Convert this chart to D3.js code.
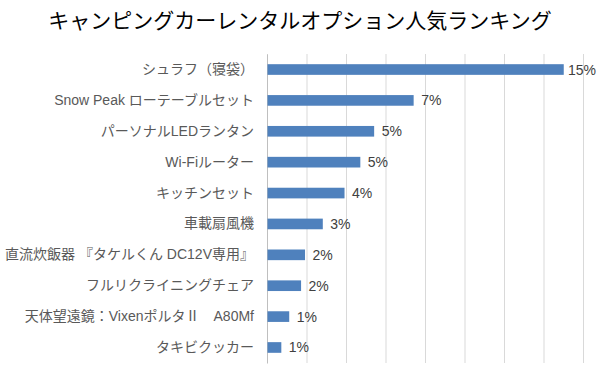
<!DOCTYPE html>
<html>
<head>
<meta charset="utf-8">
<script src="https://cdn.jsdelivr.net/npm/d3@7"></script>
<style>
  body { margin: 0; background: #fff; }
  svg text { font-family: "Liberation Sans", "Noto Sans CJK JP", sans-serif; }
</style>
</head>
<body>
<div id="chart"></div>
<script>
const width = 600, height = 381;
const margin = { top: 54, right: 17, bottom: 18, left: 267 };

// Data
const categories = [
    "シュラフ（寝袋）",
    "Snow Peak ローテーブルセット",
    "パーソナルLEDランタン",
    "Wi-Fiルーター",
    "キッチンセット",
    "車載扇風機",
    "直流炊飯器 『タケルくん DC12V専用』",
    "フルリクライニングチェア",
    "天体望遠鏡：VixenポルタⅡ　A80Mf",
    "タキビクッカー"
];
const values = [15.0, 7.4, 5.4, 4.7, 3.9, 2.8, 1.9, 1.7, 1.1, 0.7];
const valueLabels = ["15%", "7%", "5%", "5%", "4%", "3%", "2%", "2%", "1%", "1%"];
const gridTicks = [0, 2, 4, 6, 8, 10, 12, 14, 16];
const title = "キャンピングカーレンタルオプション人気ランキング";

const svg = d3.select("#chart")
    .append("svg")
    .attr("width", width)
    .attr("height", height);

const xScale = d3.scaleLinear()
    .domain([0, 16])
    .range([margin.left, width - margin.right]);

const yScale = d3.scaleBand()
    .domain(categories)
    .range([margin.top, height - margin.bottom])
    .paddingInner(0.655)
    .paddingOuter(0.33);

// Title
svg.append("text")
    .attr("x", width / 2)
    .attr("y", 28)
    .attr("text-anchor", "middle")
    .style("font-size", "21px")
    .style("fill", "#000")
    .text(title);

// Vertical gridlines
svg.append("g")
    .attr("transform", `translate(0,${height - margin.bottom})`)
    .call(d3.axisBottom(xScale).tickValues(gridTicks)
        .tickSize(-(height - margin.top - margin.bottom)).tickFormat(""))
    .call(g => g.select(".domain").remove())
    .call(g => g.selectAll(".tick line").attr("stroke", "#d9d9d9").attr("stroke-width", 1));

// Category axis
svg.append("g")
    .attr("transform", `translate(${margin.left},0)`)
    .call(d3.axisLeft(yScale).tickSize(0).tickPadding(13))
    .call(g => g.select(".domain").attr("stroke", "#bfbfbf"))
    .call(g => g.selectAll(".tick text")
        .style("font-size", "14px")
        .style("fill", "#595959"));

// Bars
svg.selectAll(".bar")
    .data(values)
    .join("rect")
    .attr("class", "bar")
    .attr("x", xScale(0) + 0.5)
    .attr("y", (d, i) => yScale(categories[i]))
    .attr("width", d => xScale(d) - xScale(0))
    .attr("height", yScale.bandwidth())
    .style("fill", "#4f81bd");

// Value labels
svg.selectAll(".value")
    .data(values)
    .join("text")
    .attr("class", "value")
    .attr("x", d => Math.min(xScale(d) + 8, 568))
    .attr("y", (d, i) => yScale(categories[i]) + yScale.bandwidth() / 2 + 5)
    .style("font-size", "14px")
    .style("fill", "#404040")
    .text((d, i) => valueLabels[i]);
</script>
</body>
</html>
